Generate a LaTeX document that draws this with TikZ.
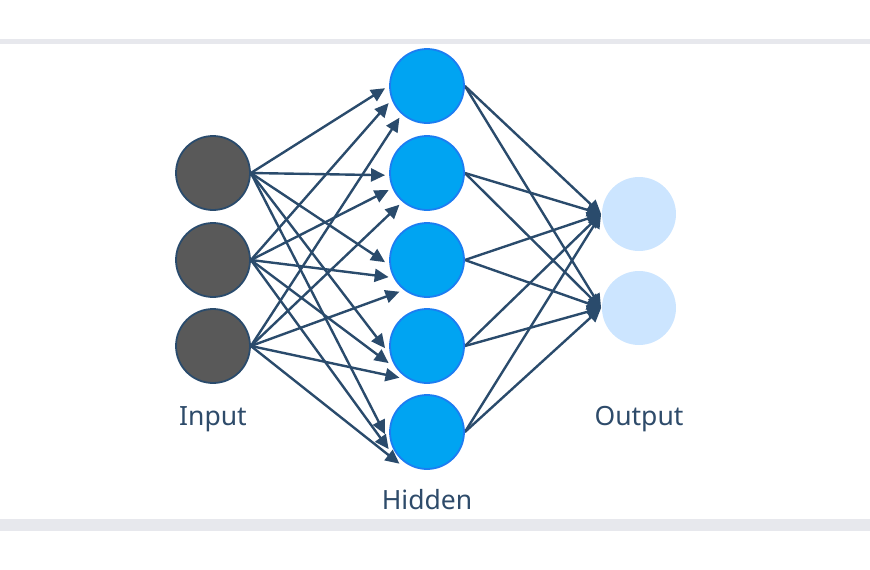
\documentclass[tikz,border=0pt]{standalone}
\usepackage{fontspec}
\setmainfont{Noto Sans}
\usetikzlibrary{calc,arrows.meta}
\definecolor{edgec}{HTML}{2A4B6C}
\definecolor{inpfill}{HTML}{595959}
\definecolor{hidfill}{HTML}{00A4F2}
\definecolor{hiddraw}{HTML}{1C7DF2}
\definecolor{outfill}{HTML}{CCE5FF}
\definecolor{txtc}{HTML}{2E4B6A}
\definecolor{bandc}{HTML}{E7E8ED}
\pgfdeclarelayer{background}
\pgfsetlayers{background,main}
\tikzset{
  neuron/.style={circle, minimum size=74pt, inner sep=0pt, line width=1.8pt},
  innode/.style={neuron, fill=inpfill, draw=edgec},
  hidnode/.style={neuron, fill=hidfill, draw=hiddraw},
  outnode/.style={neuron, fill=outfill, draw=none},
  arr/.style={draw=edgec, line width=2.4pt, -{Triangle[length=14pt,width=13pt]}},
  lbl/.style={text=txtc, font=\fontsize{26.5}{30}\selectfont, inner sep=0pt, anchor=base}
}
\begin{document}
\begin{tikzpicture}[x=1pt,y=-1pt]
\useasboundingbox (0,0) rectangle (870,570);
\fill[bandc] (0,39) rectangle (870,44);
\fill[bandc] (0,519) rectangle (870,531);
% nodes
\node[innode] (i1) at (213,173) {};
\node[innode] (i2) at (213,260) {};
\node[innode] (i3) at (213,346) {};
\node[hidnode] (h1) at (427,86) {};
\node[hidnode] (h2) at (427,173) {};
\node[hidnode] (h3) at (427,260) {};
\node[hidnode] (h4) at (427,346) {};
\node[hidnode] (h5) at (427,432) {};
\node[outnode] (o1) at (639,214) {};
\node[outnode] (o2) at (639,308) {};
% labels
\node[lbl] (linput) at (213,425) {Input};
\node[lbl] (lhidden) at (427,509) {Hidden};
\node[lbl] (loutput) at (639,425) {Output};
\begin{pgfonlayer}{background}
\foreach \h in {h1,h2,h3,h4,h5}{
  \draw[arr] (i1.east) -- ($(\h)+(177:42)$);
  \draw[arr] (i2.east) -- ($(\h)+(156:42)$);
  \draw[arr] (i3.east) -- ($(\h)+(131:42)$);
  \draw[arr] (\h.east) -- (o1.west);
  \draw[arr] (\h.east) -- (o2.west);
}
\end{pgfonlayer}
\end{tikzpicture}
\end{document}
